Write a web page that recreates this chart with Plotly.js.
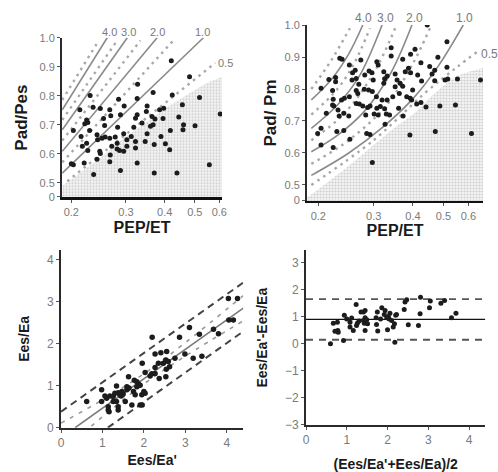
<!DOCTYPE html>
<html>
<head>
<meta charset="utf-8">
<script src="https://cdn.plot.ly/plotly-3.0.1.min.js"></script>
<style>html,body{margin:0;padding:0;background:#fff;}#chart{width:498px;height:472px;}</style>
</head>
<body>
<div id="chart"></div>
<script>
// ---------- Panel A: Pad/Pes vs PEP/ET ----------
const p1PepEt = [0.420,0.481,0.518,0.423,0.230,0.327,0.367,0.284,0.326,
  0.213,0.235,0.248,0.266,0.296,0.351,0.385,0.397,0.456,
  0.224,0.226,0.221,0.254,0.268,0.288,0.326,0.322,0.349,0.364,0.372,0.395,0.444,0.604,
  0.203,0.229,0.256,0.282,0.318,0.338,0.360,0.367,0.460,0.501,
  0.215,0.242,0.257,0.277,0.295,0.312,0.351,0.389,0.417,0.458,
  0.224,0.243,0.251,0.266,0.281,0.302,0.322,0.346,0.402,
  0.217,0.226,0.247,0.270,0.281,0.286,0.295,0.302,0.322,0.370,0.415,
  0.248,0.267,0.242,0.266,0.326,
  0.200,0.203,0.220,0.236,0.288,0.370,0.438,0.557];
const p1PadPes = [0.921,0.866,0.794,0.803,0.801,0.840,0.811,0.788,0.791,
  0.752,0.761,0.756,0.752,0.765,0.765,0.752,0.757,0.769,
  0.717,0.708,0.704,0.722,0.731,0.735,0.735,0.723,0.746,0.729,0.720,0.722,0.727,0.737,
  0.681,0.681,0.698,0.692,0.692,0.706,0.695,0.700,0.700,0.697,
  0.660,0.666,0.658,0.658,0.669,0.660,0.669,0.660,0.681,0.683,
  0.637,0.649,0.654,0.654,0.637,0.649,0.643,0.643,0.635,
  0.626,0.612,0.609,0.626,0.617,0.612,0.609,0.626,0.620,0.632,0.614,
  0.601,0.596,0.582,0.573,0.569,
  0.566,0.563,0.569,0.529,0.543,0.534,0.534,0.563];

// ---------- Panel B: Pad/Pm vs PEP/ET ----------
const p2PepEt = [0.444,0.513,0.341,0.406,0.234,0.238,0.341,0.371,0.393,0.424,0.480,0.307,0.310,0.273,0.251,0.452,0.469,0.513,0.262,
  0.204,0.216,0.227,0.227,0.222,0.257,0.256,0.264,0.269,0.281,0.290,0.296,0.299,0.323,0.325,0.331,0.351,0.356,0.378,0.387,0.393,0.414,0.426,0.460,0.469,0.506,0.516,0.554,0.656,
  0.323,0.351,0.364,0.371,0.399,
  0.223,0.224,0.242,0.237,0.251,0.264,0.267,0.280,0.289,0.297,0.306,0.319,0.331,0.345,0.362,0.382,0.392,0.396,0.411,0.424,
  0.212,0.222,0.231,0.241,0.264,0.270,0.277,0.287,0.292,0.307,0.315,0.325,0.329,0.360,0.440,0.487,0.546,
  0.233,0.250,0.283,0.301,0.310,0.337,0.372,0.326,0.199,0.204,0.229,0.241,0.285,0.292,0.391,0.471,0.614,0.204,0.223,0.252,0.297];
const p2PadPm = [1.000,0.948,0.929,0.924,0.896,0.893,0.903,0.893,0.909,0.882,0.899,0.885,0.875,0.891,0.875,0.870,0.859,0.868,0.859,
  0.802,0.830,0.836,0.823,0.795,0.851,0.828,0.833,0.815,0.844,0.856,0.851,0.828,0.854,0.832,0.841,0.847,0.828,0.854,0.865,0.851,0.844,0.825,0.847,0.826,0.828,0.831,0.831,0.828,
  0.818,0.807,0.818,0.809,0.797,
  0.768,0.747,0.771,0.766,0.776,0.795,0.786,0.799,0.797,0.792,0.776,0.766,0.766,0.776,0.786,0.776,0.771,0.766,0.753,0.758,
  0.724,0.750,0.734,0.724,0.755,0.753,0.747,0.742,0.747,0.740,0.745,0.738,0.722,0.740,0.744,0.747,0.750,
  0.716,0.716,0.719,0.722,0.719,0.719,0.716,0.690,0.661,0.677,0.667,0.670,0.661,0.658,0.656,0.667,0.661,0.625,0.617,0.643,0.570];

// iso-lines of Ees/Ea (labels)
const isoLabels = ['4.0','3.0','2.0','1.0','0.5'];
const p1SolidX = [[0.187,0.261],[0.187,0.303],[0.187,0.378],[0.187,0.533]];
const p1SolidY = [[0.752,1.0],[0.683,1.0],[0.609,1.0],[0.534,1.0]];
const p1DotX = [[0.187,0.245],[0.187,0.281],[0.187,0.334],[0.187,0.426],[0.194,0.582]];
const p1DotY = [[0.786,0.99],[0.717,0.99],[0.646,0.99],[0.571,0.99],[0.506,0.913]];
const p1LabelX = [0.266,0.306,0.378,0.531,0.630];
const p1LabelY = [1.0,1.0,1.0,1.0,0.913];
const p1ShadeX = [0.187,0.25,0.30,0.35,0.40,0.45,0.50,0.55,0.612];
const p1ShadeY = [0.49,0.59,0.66,0.71,0.755,0.79,0.82,0.845,0.865];

const p2SolidX = [[0.19,0.22,0.25,0.277],[0.19,0.23,0.27,0.319],[0.19,0.23,0.28,0.34,0.397],[0.19,0.25,0.32,0.40,0.48,0.578]];
const p2SolidY = [[0.766,0.83,0.91,1.0],[0.677,0.75,0.84,1.0],[0.604,0.655,0.73,0.85,1.0],[0.53,0.60,0.68,0.77,0.87,1.0]];
const p2DotX = [[0.19,0.22,0.252],[0.19,0.23,0.26,0.292],[0.19,0.24,0.30,0.351],[0.19,0.25,0.33,0.40,0.453],[0.19,0.30,0.436,0.553,0.64]];
const p2DotY = [[0.80,0.89,0.99],[0.72,0.80,0.88,0.99],[0.64,0.72,0.85,0.99],[0.566,0.64,0.75,0.88,0.99],[0.50,0.64,0.787,0.869,0.916]];
const p2LabelX = [0.278,0.326,0.405,0.584,0.703];
const p2LabelY = [1.0,1.0,1.0,1.0,0.909];
const p2ShadeX = [0.1841,0.25,0.30,0.35,0.40,0.45,0.50,0.55,0.668];
const p2ShadeY = [0.46,0.56,0.625,0.68,0.72,0.77,0.81,0.84,0.866];

const topTickVals = [0.452,0.5,0.6,0.7,0.8,0.9,1.0];
const topTickText = ['0','0.5','0.6','0.7','0.8','0.9','1.0'];
const pepTickVals = [0.2,0.3,0.4,0.5,0.6];
const pepTickText = ['0.2','0.3','0.4','0.5','0.6'];
const p1XRange = [0.1866, 0.612];
const p2XRange = [0.1841, 0.668];

// ---------- Panel C: Ees/Ea vs Ees/Ea' ----------
const p3EesEaPrime = [4.04,4.26,4.05,4.16,3.68,3.80,3.34,3.10,2.86,2.20,
  2.27,2.41,2.55,2.75,2.99,3.19,3.40,
  1.96,2.35,2.47,2.53,2.59,2.62,
  2.03,2.15,2.19,2.27,2.54,2.37,2.53,2.27,
  1.63,1.77,1.83,1.87,1.91,1.83,
  1.34,0.98,1.30,1.38,1.47,1.50,1.42,1.59,1.64,1.59,1.45,1.48,
  1.95,2.03,1.75,2.00,1.79,
  0.62,0.98,1.10,1.26,1.34,1.14,1.38,1.55,1.91,1.96,1.38,1.06,1.14,1.18,1.26,1.16,1.71];
const p3EesEa = [3.07,3.07,2.56,2.56,2.34,2.23,2.22,2.38,2.15,2.15,
  1.75,1.78,1.81,1.65,1.75,1.65,1.70,
  1.53,1.53,1.53,1.61,1.57,1.45,
  1.31,1.23,1.28,1.29,1.39,1.17,1.21,1.43,
  1.21,1.13,1.09,1.04,1.01,0.97,
  0.99,0.90,0.82,0.83,0.86,0.80,0.78,0.90,0.94,0.97,0.75,0.78,
  0.78,0.82,0.86,0.86,0.78,
  0.62,0.62,0.70,0.62,0.62,0.42,0.42,0.62,0.54,0.54,0.50,0.75,0.50,0.75,0.74,0.38,0.54];
const p3RegX = [0.34,4.4], p3RegY = [0,2.84];
const p3PredUpX = [0,4.4], p3PredUpY = [0.38,3.45];
const p3PredLoX = [1.13,4.4], p3PredLoY = [0,2.29];
const p3CiX = [0,1,2,3,4.4];
const p3CiUpY = [0.11,0.66,1.28,2.02,3.14];
const p3CiLoY = [-0.59,0.26,1.04,1.70,2.54];

// ---------- Panel D: Bland-Altman ----------
const p4Mean = [0.60,0.67,0.71,0.77,0.78,0.79,0.92,0.94,1.00,1.08,1.08,1.12,1.16,1.23,1.24,1.26,1.30,1.35,1.41,1.45,1.41,1.43,1.45,1.45,1.49,1.51,
  1.72,1.73,1.76,1.83,1.86,1.92,1.98,2.00,2.02,2.04,2.06,2.10,2.14,1.94,1.75,2.20,2.17,2.22,2.18,
  2.41,2.43,2.47,2.81,2.51,2.76,2.80,3.03,3.05,3.31,3.40,3.57,3.68];
const p4Diff = [0.00,0.76,0.46,0.80,0.49,0.43,0.12,1.05,0.92,0.80,0.62,0.95,0.49,1.45,0.68,0.76,0.84,1.17,1.17,1.23,0.86,0.76,0.49,0.96,0.89,0.74,
  0.96,0.71,0.47,0.92,1.33,1.08,0.96,0.52,1.01,0.92,1.13,0.86,0.62,1.23,1.17,1.05,0.74,1.08,0.06,
  1.27,1.54,1.63,1.72,0.70,0.68,1.11,1.33,1.58,1.50,1.60,0.96,1.13];
const p4BiasRange = [0,4.4];
const p4Bias = 0.9, p4UpperLoA = 1.65, p4LowerLoA = 0.15;

// ---------- styling ----------
const FONT = 'Liberation Sans, Arial, sans-serif';
const tickFont = {family: FONT, size: 11, color: '#7a7a7a'};
const titleFont = (s) => ({family: FONT, size: s, color: '#1a1a1a'});
const dotColor = '#1c1c1c';
const shadePattern = {shape: '.', bgcolor: '#f5f5f5', fgcolor: '#cdcdcd', size: 3, solidity: 0.4};

const traces = [];
function addIso(xs, ys, dash, color, width, xa, ya) {
  xs.forEach((x, i) => traces.push({x: x, y: ys[i], type: 'scatter', mode: 'lines', xaxis: xa, yaxis: ya,
    line: {color: color, width: width, dash: dash, shape: x.length > 2 ? 'spline' : 'linear'}, hoverinfo: 'skip'}));
}
// panel A
traces.push({x: p1ShadeX, y: p1ShadeY, type: 'scatter', mode: 'lines', fill: 'tozeroy', xaxis: 'x', yaxis: 'y',
  line: {width: 0, shape: 'spline'}, fillcolor: '#efefef', fillpattern: shadePattern, hoverinfo: 'skip'});
addIso(p1DotX, p1DotY, '2.5px,4.5px', '#a8a8a8', 2.4, 'x', 'y');
addIso(p1SolidX, p1SolidY, 'solid', '#8a8a8a', 1.6, 'x', 'y');
traces.push({x: p1PepEt, y: p1PadPes, type: 'scatter', mode: 'markers', xaxis: 'x', yaxis: 'y',
  marker: {size: 5, color: dotColor}});
// panel B
traces.push({x: p2ShadeX, y: p2ShadeY, type: 'scatter', mode: 'lines', fill: 'tozeroy', xaxis: 'x2', yaxis: 'y2',
  line: {width: 0, shape: 'spline'}, fillcolor: '#efefef', fillpattern: shadePattern, hoverinfo: 'skip'});
addIso(p2DotX, p2DotY, '2.5px,4.5px', '#a8a8a8', 2.4, 'x2', 'y2');
addIso(p2SolidX, p2SolidY, 'solid', '#8a8a8a', 1.6, 'x2', 'y2');
traces.push({x: p2PepEt, y: p2PadPm, type: 'scatter', mode: 'markers', xaxis: 'x2', yaxis: 'y2',
  marker: {size: 5, color: dotColor}});
// panel C
traces.push({x: p3PredUpX, y: p3PredUpY, type: 'scatter', mode: 'lines', xaxis: 'x3', yaxis: 'y3', line: {color: '#444', width: 2, dash: '7px,5px'}});
traces.push({x: p3PredLoX, y: p3PredLoY, type: 'scatter', mode: 'lines', xaxis: 'x3', yaxis: 'y3', line: {color: '#444', width: 2, dash: '7px,5px'}});
traces.push({x: p3CiX, y: p3CiUpY, type: 'scatter', mode: 'lines', xaxis: 'x3', yaxis: 'y3', line: {color: '#999', width: 1.6, dash: '4px,6px', shape: 'spline'}});
traces.push({x: p3CiX, y: p3CiLoY, type: 'scatter', mode: 'lines', xaxis: 'x3', yaxis: 'y3', line: {color: '#999', width: 1.6, dash: '4px,6px', shape: 'spline'}});
traces.push({x: p3RegX, y: p3RegY, type: 'scatter', mode: 'lines', xaxis: 'x3', yaxis: 'y3', line: {color: '#7a7a7a', width: 1.6}});
traces.push({x: p3EesEaPrime, y: p3EesEa, type: 'scatter', mode: 'markers', xaxis: 'x3', yaxis: 'y3',
  marker: {size: 5.5, color: dotColor}});
// panel D
[p4UpperLoA, p4LowerLoA].forEach(v => traces.push({x: p4BiasRange, y: [v, v], type: 'scatter', mode: 'lines', xaxis: 'x4', yaxis: 'y4',
  line: {color: '#555', width: 1.8, dash: '7px,6px'}}));
traces.push({x: p4BiasRange, y: [p4Bias, p4Bias], type: 'scatter', mode: 'lines', xaxis: 'x4', yaxis: 'y4', line: {color: '#111', width: 1.2}});
traces.push({x: p4Mean, y: p4Diff, type: 'scatter', mode: 'markers', xaxis: 'x4', yaxis: 'y4',
  marker: {size: 5, color: dotColor}});

function ax(extra) {
  return Object.assign({showline: true, linecolor: '#2a2a2a', linewidth: 2, showgrid: false, zeroline: false,
    ticks: 'outside', ticklen: 3, tickwidth: 1, tickcolor: '#555', tickfont: tickFont, automargin: false, fixedrange: true}, extra);
}

// iso-line labels; domain fraction on the log axis so labels past the axis end still show
function logFrac(v, r) { return Math.log10(v / r[0]) / Math.log10(r[1] / r[0]); }
const annotations = [];
isoLabels.forEach((t, i) => {
  const last = i === isoLabels.length - 1;
  annotations.push({xref: 'x domain', yref: 'y', x: logFrac(p1LabelX[i], p1XRange), y: p1LabelY[i], text: t, showarrow: false,
    xanchor: 'center', yanchor: last ? 'middle' : 'bottom', yshift: last ? 0 : -2, font: {family: FONT, size: 11, color: '#7a7a7a'}});
  annotations.push({xref: 'x2 domain', yref: 'y2', x: logFrac(p2LabelX[i], p2XRange), y: p2LabelY[i], text: t, showarrow: false,
    xanchor: 'center', yanchor: last ? 'middle' : 'bottom', yshift: last ? 0 : -2, font: {family: FONT, size: 12, color: '#7a7a7a'}});
});

const layout = {
  width: 498, height: 472, margin: {l: 0, r: 0, t: 0, b: 0},
  paper_bgcolor: '#fff', plot_bgcolor: 'rgba(0,0,0,0)', showlegend: false, font: {family: FONT},
  xaxis: ax({type: 'log', domain: [0.1245, 0.4458], range: [Math.log10(p1XRange[0]), Math.log10(p1XRange[1])], anchor: 'y',
    tickmode: 'array', tickvals: pepTickVals, ticktext: pepTickText, linecolor: '#111', linewidth: 2.5,
    title: {text: '<b>PEP/ET</b>', font: titleFont(16), standoff: 5}}),
  yaxis: ax({domain: [0.5816, 0.9201], range: [0.45, 1.0], anchor: 'x', tickmode: 'array', tickvals: topTickVals, ticktext: topTickText,
    title: {text: '<b>Pad/Pes</b>', font: titleFont(17), standoff: 8}}),
  xaxis2: ax({type: 'log', domain: [0.6165, 0.9699], range: [Math.log10(p2XRange[0]), Math.log10(p2XRange[1])], anchor: 'y2',
    tickmode: 'array', tickvals: pepTickVals, ticktext: pepTickText, linecolor: '#111', linewidth: 2.5,
    title: {text: '<b>PEP/ET</b>', font: titleFont(16), standoff: 4}}),
  yaxis2: ax({domain: [0.5742, 0.9470], range: [0.45, 1.0], anchor: 'x2', tickmode: 'array', tickvals: topTickVals, ticktext: topTickText,
    title: {text: '<b>Pad/ Pm</b>', font: titleFont(17), standoff: 4}}),
  xaxis3: ax({domain: [0.1225, 0.4886], range: [0, 4.4], anchor: 'y3', tickvals: [0,1,2,3,4], tickmode: 'array', tickfont: Object.assign({}, tickFont, {size: 12}),
    title: {text: "<b>Ees/Ea'</b>", font: titleFont(14), standoff: 6}}),
  yaxis3: ax({domain: [0.0939, 0.4701], range: [0, 4.22], anchor: 'x3', tickvals: [0,1,2,3,4], tickmode: 'array', tickfont: Object.assign({}, tickFont, {size: 12}),
    title: {text: '<b>Ees/Ea</b>', font: titleFont(14), standoff: 14}}),
  xaxis4: ax({domain: [0.6145, 0.9745], range: [0, 4.4], anchor: 'y4', tickvals: [0,1,2,3,4], tickmode: 'array', tickfont: Object.assign({}, tickFont, {size: 12}),
    title: {text: "<b>(Ees/Ea'+Ees/Ea)/2</b>", font: titleFont(14), standoff: 25}}),
  yaxis4: ax({domain: [0.0996, 0.4695], range: [-3, 3.45], anchor: 'x4', tickvals: [-3,-2,-1,0,1,2,3], tickmode: 'array', tickfont: Object.assign({}, tickFont, {size: 12}),
    title: {text: "<b>Ees/Ea'-Ees/Ea</b>", font: titleFont(14), standoff: 14}}),
  annotations: annotations
};

Plotly.newPlot('chart', traces, layout, {displayModeBar: false, staticPlot: true});
</script>
</body>
</html>
